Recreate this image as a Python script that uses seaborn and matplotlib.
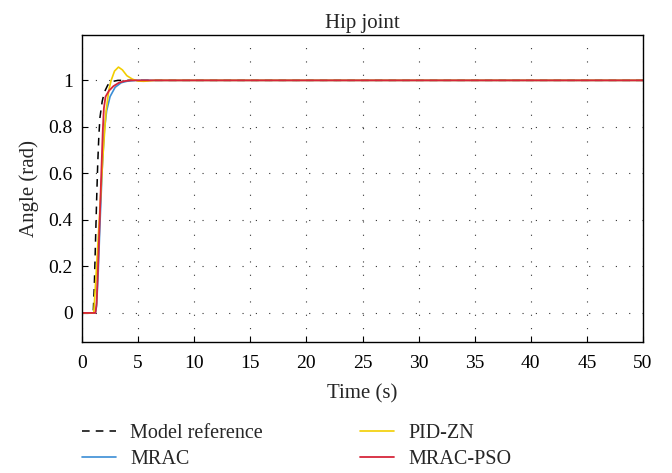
import matplotlib
matplotlib.use("Agg")
import matplotlib.pyplot as plt
import seaborn as sns
import pandas as pd

# ---- data ----
t_ref = [0, 1.0, 1.1, 1.2, 1.3, 1.4, 1.5, 1.6, 1.8, 2.0, 2.3, 2.7, 3.2, 50]
y_ref = [0, 0, 0.12, 0.30, 0.48, 0.64, 0.76, 0.84, 0.91, 0.95, 0.98, 0.995, 1.0, 1.0]

t_mrac = [0, 1.2, 1.3, 1.45, 1.6, 1.8, 2.0, 2.2, 2.5, 2.95, 3.5, 4.0, 4.7, 50]
y_mrac = [0, 0, 0.03, 0.18, 0.38, 0.62, 0.79, 0.87, 0.93, 0.97, 0.99, 0.996, 1.0, 1.0]

t_pid = [0, 1.05, 1.3, 1.6, 1.9, 2.15, 2.4, 2.6, 2.9, 3.25, 3.6, 4.0, 4.5, 5.0, 5.5, 6.5, 50]
y_pid = [0, 0, 0.20, 0.45, 0.70, 0.87, 0.96, 1.0, 1.04, 1.057, 1.045, 1.02, 1.005, 0.997, 0.996, 1.0, 1.0]

t_pso = [0, 1.2, 1.3, 1.4, 1.55, 1.7, 1.85, 1.95, 2.1, 2.4, 2.8, 3.3, 3.8, 4.4, 50]
y_pso = [0, 0, 0.04, 0.16, 0.36, 0.57, 0.78, 0.88, 0.93, 0.955, 0.975, 0.99, 0.997, 1.0, 1.0]

series_names = ["Model reference", "MRAC", "PID-ZN", "MRAC-PSO"]
x_ticks = [0, 5, 10, 15, 20, 25, 30, 35, 40, 45, 50]
y_ticks = [0, 0.2, 0.4, 0.6, 0.8, 1]
y_tick_labels = ["0", "0.2", "0.4", "0.6", "0.8", "1"]

sns.set_theme(style="white")
plt.rcParams["font.family"] = ["Liberation Serif", "DejaVu Serif"]

fig = plt.figure(figsize=(6.72, 4.73), dpi=100)
ax = fig.add_axes([82 / 672, 1 - 342 / 473, (643 - 82) / 672, (342 - 35) / 473])

styles = [
    (t_ref, y_ref, "#000000", (0, (5, 4)), 1.1),
    (t_mrac, y_mrac, "#3B8ED6", "-", 1.2),
    (t_pid, y_pid, "#F2CE00", "-", 1.2),
    (t_pso, y_pso, "#D7263A", "-", 1.3),
]
for name, (tt, yy, c, ls, lw) in zip(series_names, styles):
    df = pd.DataFrame({"t": tt, "y": yy})
    sns.lineplot(data=df, x="t", y="y", ax=ax, color=c, linestyle=ls,
                 linewidth=lw, label=name, sort=False, estimator=None,
                 legend=False)

ax.set_xlim(0, 50)
ax.set_ylim(-0.125, 1.195)
ax.set_xticks(x_ticks)
ax.set_xticklabels([str(v) for v in x_ticks])
ax.set_yticks(y_ticks)
ax.set_yticklabels(y_tick_labels)
ax.tick_params(axis="both", direction="in", length=4, width=0.8,
               labelsize=14, colors="black",
               bottom=True, left=True, top=False, right=False)
ax.tick_params(axis="x", pad=9)
ax.tick_params(axis="y", pad=6.5)
ax.grid(True, color="#333333", linewidth=0.8, linestyle=(0, (1, 11)))
for s in ax.spines.values():
    s.set_color("black")
    s.set_linewidth(1.0)

ax.set_title("Hip joint", fontsize=15, pad=5)
ax.set_xlabel("Time (s)", fontsize=15, labelpad=9)
ax.set_ylabel("Angle (rad)", fontsize=15, labelpad=7)

handles, labels = ax.get_legend_handles_labels()
fig.legend(handles, labels, loc="upper left",
           bbox_to_anchor=(82 / 672, 1 - 424 / 473), ncol=2, frameon=False,
           fontsize=14.5, handlelength=1.7, handletextpad=0.7,
           columnspacing=4.8, labelspacing=0.35, borderpad=0, borderaxespad=0)

fig.savefig("out.png", dpi=100)
